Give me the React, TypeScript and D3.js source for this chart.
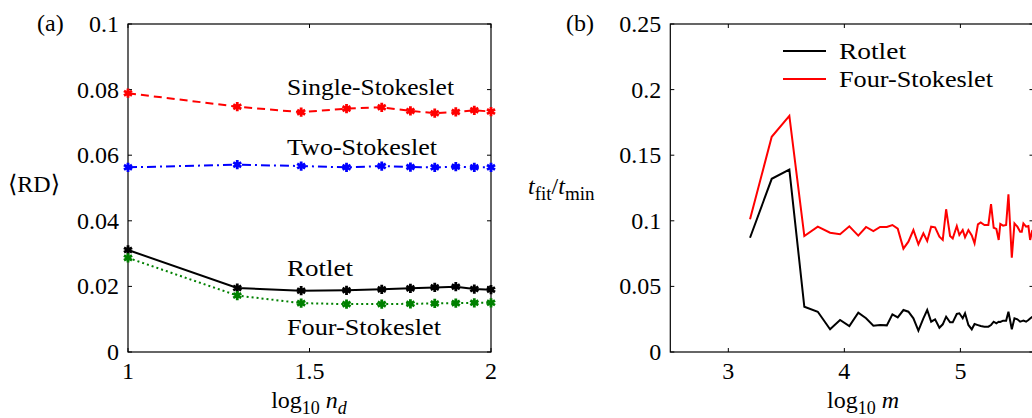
import React, { useEffect, useRef } from "react";
import * as d3 from "d3";

// panel (a): log10 n_d for n_d = 10, 20, ..., 100
const ndLog = [1, 1.301, 1.477, 1.602, 1.699, 1.778, 1.845, 1.903, 1.954, 2];
const singleStokeslet = [0.0789, 0.0748, 0.0731, 0.0742, 0.0746, 0.0735, 0.0728, 0.0732, 0.0737, 0.0733];
const twoStokeslet = [0.0563, 0.0571, 0.0567, 0.0563, 0.0567, 0.0564, 0.0563, 0.0565, 0.0563, 0.0563];
const rotletA = [0.0311, 0.0195, 0.0187, 0.0188, 0.0191, 0.0194, 0.0197, 0.0199, 0.0192, 0.019];
const fourStokesletA = [0.0287, 0.0172, 0.0149, 0.0146, 0.0146, 0.0147, 0.0148, 0.0149, 0.015, 0.015];
const aYTicks = [0, 0.02, 0.04, 0.06, 0.08, 0.1];
const aXTicks = [1, 1.5, 2];

// panel (b): log10 m
const mLog = [
  3.187, 3.374, 3.526, 3.655, 3.771, 3.877, 3.963, 4.043, 4.12, 4.187, 4.25, 4.308, 4.366, 4.414,
  4.46, 4.509, 4.552, 4.595, 4.638, 4.681, 4.714, 4.748, 4.782, 4.819, 4.848, 4.877, 4.911, 4.934,
  4.969, 4.991, 5.02, 5.04, 5.069, 5.098, 5.122, 5.151, 5.175, 5.207, 5.241, 5.264, 5.287, 5.31,
  5.33, 5.344, 5.368, 5.394, 5.414, 5.443, 5.466, 5.491, 5.515, 5.529, 5.543, 5.566, 5.586, 5.601, 5.62,
];
const rotletB = [
  0.0871, 0.132, 0.139, 0.0345, 0.0307, 0.0173, 0.0244, 0.0198, 0.03, 0.0257, 0.0201, 0.0206, 0.0203, 0.0287,
  0.0264, 0.032, 0.0307, 0.0257, 0.0163, 0.0257, 0.032, 0.0231, 0.0249, 0.0185, 0.0211, 0.0269, 0.0226, 0.0226,
  0.029, 0.0295, 0.0257, 0.0295, 0.0206, 0.0173, 0.0213, 0.0205, 0.0198, 0.0193, 0.0193, 0.0206, 0.0231, 0.0219,
  0.0231, 0.0229, 0.0239, 0.0239, 0.0307, 0.0173, 0.0257, 0.0249, 0.0231, 0.0235, 0.0239, 0.0231, 0.0244, 0.0255, 0.0269,
];
const fourStokesletB = [
  0.1011, 0.164, 0.18, 0.0884, 0.0955, 0.0909, 0.0897, 0.0958, 0.0887, 0.0953, 0.0922, 0.0953, 0.0953, 0.0968,
  0.094, 0.0788, 0.0841, 0.093, 0.0821, 0.0905, 0.0846, 0.0955, 0.095, 0.0879, 0.0854, 0.1088, 0.0884, 0.0866,
  0.096, 0.0892, 0.093, 0.0874, 0.093, 0.0889, 0.0828, 0.0973, 0.0988, 0.0968, 0.0968, 0.1128, 0.0947, 0.0938,
  0.0854, 0.0976, 0.0963, 0.0968, 0.1202, 0.0719, 0.098, 0.0955, 0.0917, 0.0917, 0.098, 0.0955, 0.096, 0.0854, 0.093,
];
const bYTicks = [0, 0.05, 0.1, 0.15, 0.2, 0.25];
const bXTicks = [3, 4, 5];

const App = () => {
  const svgRef = useRef<SVGSVGElement>(null);

  useEffect(() => {
    const svg = d3.select(svgRef.current);
    svg.selectAll("*").remove();

    const top = 24;
    const bottom = 352;

    const frame = (
      g: any,
      x: d3.ScaleLinear<number, number>,
      y: d3.ScaleLinear<number, number>,
      xt: number[],
      yt: number[]
    ) => {
      const [x0, x1] = x.range();
      const tick = 4;
      g.append("rect")
        .attr("x", x0).attr("y", top).attr("width", x1 - x0).attr("height", bottom - top)
        .attr("fill", "none").attr("stroke", "#000").attr("stroke-width", 1.2);
      xt.forEach((v) => {
        g.append("line").attr("x1", x(v)).attr("x2", x(v)).attr("y1", bottom).attr("y2", bottom - tick).attr("stroke", "#000");
        g.append("line").attr("x1", x(v)).attr("x2", x(v)).attr("y1", top).attr("y2", top + tick).attr("stroke", "#000");
        g.append("text").attr("x", x(v)).attr("y", 379).attr("text-anchor", "middle").text(String(v));
      });
      yt.forEach((v) => {
        g.append("line").attr("x1", x0).attr("x2", x0 + tick).attr("y1", y(v)).attr("y2", y(v)).attr("stroke", "#000");
        g.append("line").attr("x1", x1).attr("x2", x1 - tick).attr("y1", y(v)).attr("y2", y(v)).attr("stroke", "#000");
        g.append("text").attr("x", x0 - 9).attr("y", y(v)).attr("dy", "0.33em").attr("text-anchor", "end")
          .text(v === 0 ? "0" : String(+v.toFixed(2)));
      });
    };

    // ---- panel (a)
    const xa = d3.scaleLinear().domain([1, 2]).range([128, 491]);
    const ya = d3.scaleLinear().domain([0, 0.1]).range([bottom, top]);
    const ga = svg.append("g");
    frame(ga, xa, ya, aXTicks, aYTicks);

    const seriesA = [
      { vals: singleStokeslet, color: "#ff0000", dash: "8,5" },
      { vals: twoStokeslet, color: "#0000ff", dash: "9,4,2,4" },
      { vals: rotletA, color: "#000000", dash: null },
      { vals: fourStokesletA, color: "#008000", dash: "2,3" },
    ];
    const lineA = d3.line<number>().x((_, i) => xa(ndLog[i])).y((d) => ya(d));
    const star = d3.symbol().type(d3.symbolAsterisk).size(60);
    seriesA.forEach((s) => {
      ga.append("path")
        .attr("d", lineA(s.vals))
        .attr("fill", "none")
        .attr("stroke", s.color)
        .attr("stroke-width", 2)
        .attr("stroke-dasharray", s.dash);
      ga.selectAll(null)
        .data(s.vals)
        .enter()
        .append("path")
        .attr("d", star)
        .attr("transform", (d, i) => `translate(${xa(ndLog[i])},${ya(d)})`)
        .attr("fill", "none")
        .attr("stroke", s.color)
        .attr("stroke-width", 2.8);
    });

    // curve labels (computer-modern is wider than Times, so stretch a little)
    const labA = [
      { t: "Single-Stokeslet", y: 95, w: 167 },
      { t: "Two-Stokeslet", y: 155, w: 150 },
      { t: "Rotlet", y: 276, w: 66 },
      { t: "Four-Stokeslet", y: 335, w: 154 },
    ];
    labA.forEach((l) =>
      ga.append("text").attr("x", 287).attr("y", l.y)
        .attr("textLength", l.w).attr("lengthAdjust", "spacingAndGlyphs").text(l.t)
    );

    ga.append("text").attr("x", 37).attr("y", 31).text("(a)");
    ga.append("text").attr("x", 8).attr("y", 192).text("\u27E8RD\u27E9");
    const xla = ga.append("text").attr("x", 309).attr("y", 408).attr("text-anchor", "middle");
    xla.append("tspan").text("log");
    xla.append("tspan").attr("font-size", 18).attr("dy", 6).text("10");
    xla.append("tspan").attr("dy", -6).attr("font-style", "italic").text(" n");
    xla.append("tspan").attr("font-size", 18).attr("dy", 6).attr("font-style", "italic").text("d");

    // ---- panel (b)
    const xb = d3.scaleLinear().domain([2.5, 5.63]).range([670.3, 1033.5]);
    const yb = d3.scaleLinear().domain([0, 0.25]).range([bottom, top]);
    const gb = svg.append("g");
    frame(gb, xb, yb, bXTicks, bYTicks);

    const lineB = d3.line<number>().x((_, i) => xb(mLog[i])).y((d) => yb(d));
    [
      { vals: rotletB, color: "#000000" },
      { vals: fourStokesletB, color: "#ff0000" },
    ].forEach((s) => {
      gb.append("path")
        .attr("d", lineB(s.vals))
        .attr("fill", "none")
        .attr("stroke", s.color)
        .attr("stroke-width", 2)
        .attr("stroke-linejoin", "miter");
    });

    const legend = [
      { t: "Rotlet", color: "#000000", y: 51, w: 67 },
      { t: "Four-Stokeslet", color: "#ff0000", y: 79, w: 154 },
    ];
    legend.forEach((l) => {
      gb.append("line").attr("x1", 783).attr("x2", 826).attr("y1", l.y).attr("y2", l.y)
        .attr("stroke", l.color).attr("stroke-width", 2);
      gb.append("text").attr("x", 839).attr("y", l.y).attr("dy", "0.33em")
        .attr("textLength", l.w).attr("lengthAdjust", "spacingAndGlyphs").text(l.t);
    });

    gb.append("text").attr("x", 566).attr("y", 31).text("(b)");
    const yl = gb.append("text").attr("x", 528).attr("y", 194);
    yl.append("tspan").attr("font-style", "italic").text("t");
    yl.append("tspan").attr("font-size", 19).attr("dy", 6).text("fit");
    yl.append("tspan").attr("dy", -6).text("/");
    yl.append("tspan").attr("font-style", "italic").text("t");
    yl.append("tspan").attr("font-size", 19).attr("dy", 6).text("min");

    const xlb = gb.append("text").attr("x", 863).attr("y", 408).attr("text-anchor", "middle");
    xlb.append("tspan").text("log");
    xlb.append("tspan").attr("font-size", 18).attr("dy", 6).text("10");
    xlb.append("tspan").attr("dy", -6).attr("font-style", "italic").text(" m");
  }, []);

  return (
    <svg
      ref={svgRef}
      width={1032}
      height={418}
      style={{
        position: "absolute",
        left: 0,
        top: 0,
        background: "#fff",
        overflow: "hidden",
        fontFamily: '"Liberation Serif", "DejaVu Serif", serif',
        fontSize: 24,
      }}
    ></svg>
  );
};

export default App;
